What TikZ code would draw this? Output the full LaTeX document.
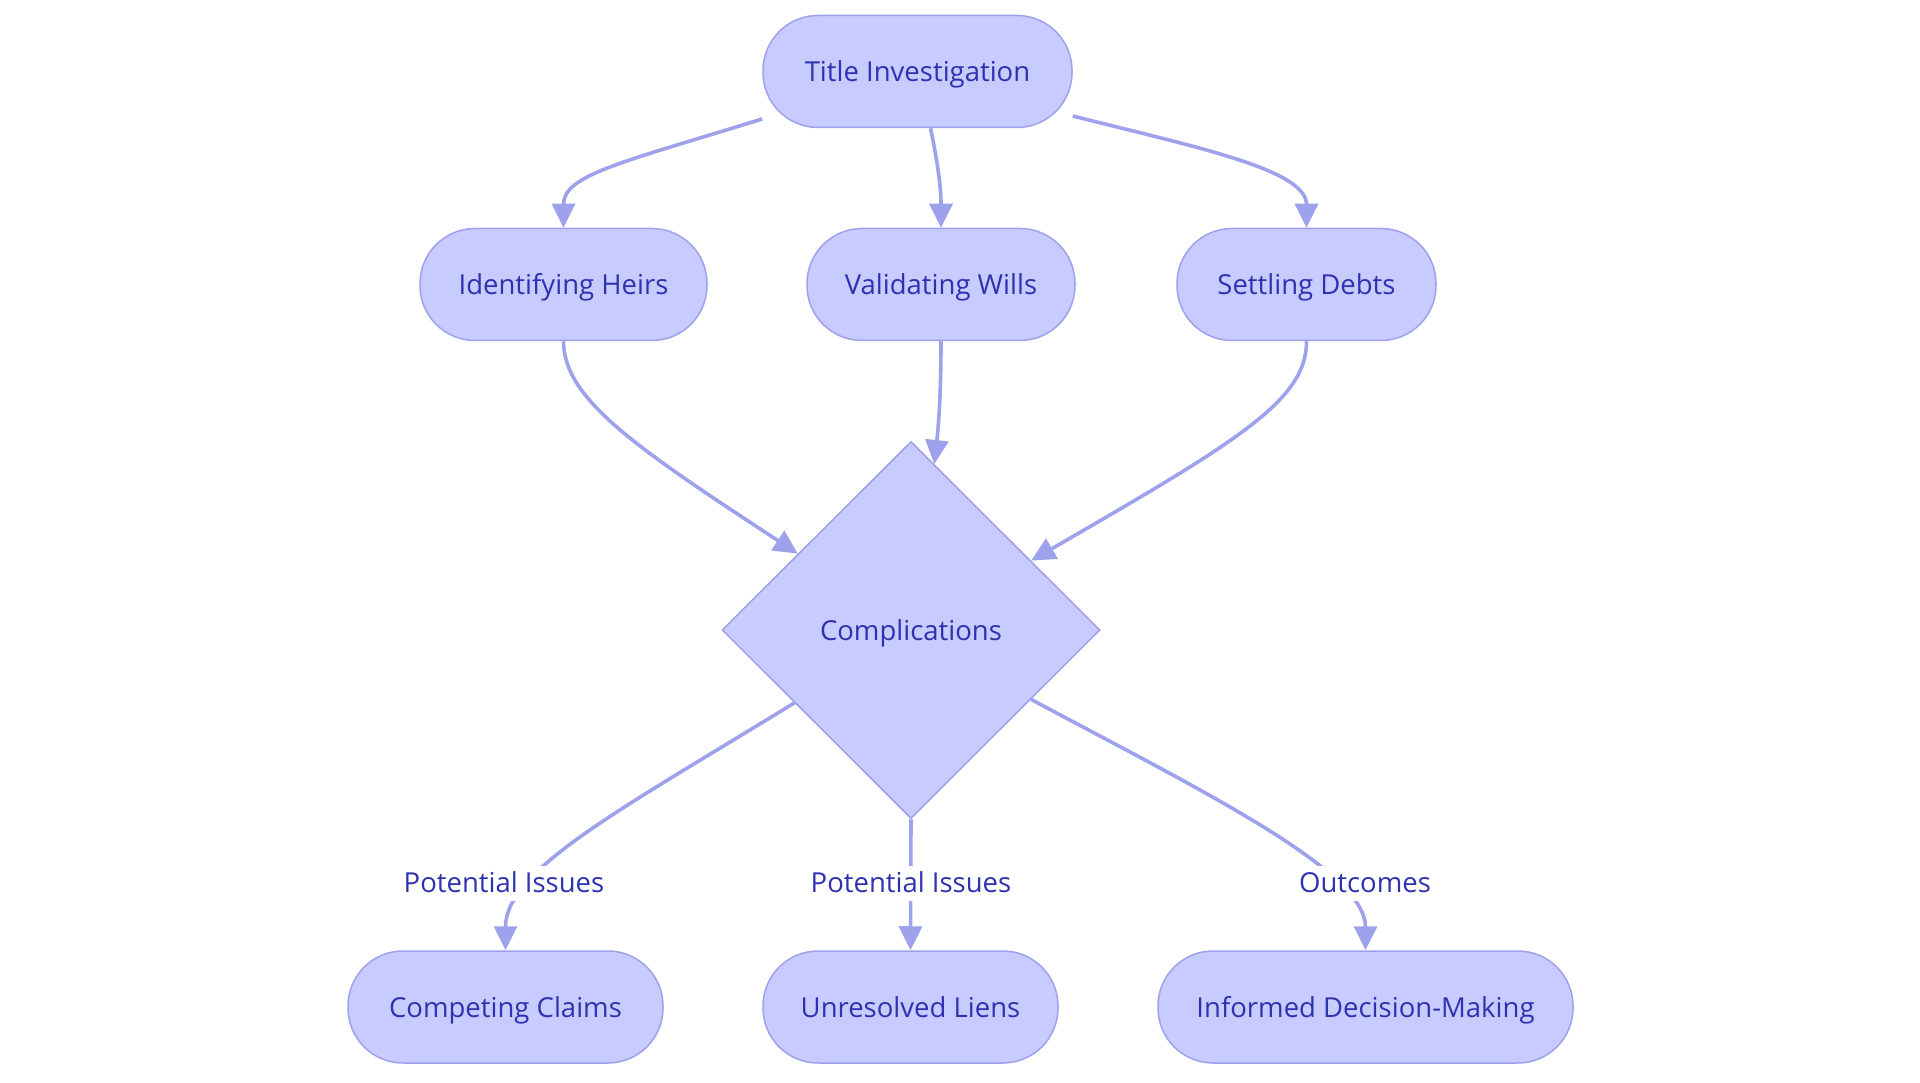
\documentclass[tikz,border=0pt]{standalone}
\usepackage{fontspec}
\setmainfont{Open Sans}
\usetikzlibrary{shapes.geometric,arrows.meta}
\definecolor{nfill}{HTML}{C7CBFF}
\definecolor{nline}{HTML}{9EA2EA}
\definecolor{ntext}{HTML}{2E32B0}
\definecolor{eline}{HTML}{9EA2EC}
\tikzset{
  pill/.style={draw=nline,line width=1.5pt,fill=nfill,rounded corners=55pt,
    minimum height=112pt,inner sep=0pt,text=ntext,font=\fontsize{27.5}{32}\selectfont,
    text height=26pt,text depth=6pt},
  decision/.style={diamond,draw=nline,line width=1.5pt,fill=nfill,
    minimum width=378pt,minimum height=377pt,inner sep=0pt,text=ntext,
    font=\fontsize{27.5}{32}\selectfont,text height=26pt,text depth=6pt},
  elabel/.style={fill=white,text=ntext,inner sep=2pt,font=\fontsize{27.5}{32}\selectfont,
    text height=25pt,text depth=6pt},
  conn/.style={draw=eline,line width=3.6pt,-{Triangle[length=24pt,width=23pt]}},
}
\begin{document}
\begin{tikzpicture}[x=1pt,y=-1pt]
\useasboundingbox (0,0) rectangle (1920,1083);
\node[pill,minimum width=309pt] (T) at (917.5,71.5) {Title Investigation};
\node[pill,minimum width=287pt] (IH) at (563.5,284.5) {Identifying Heirs};
\node[pill,minimum width=268pt] (VW) at (941,284.5) {Validating Wills};
\node[pill,minimum width=259pt] (SD) at (1306.5,284.5) {Settling Debts};
\node[decision] (D) at (911,630) {Complications};
\node[pill,minimum width=315pt] (CC) at (505.5,1007) {Competing Claims};
\node[pill,minimum width=295pt] (UL) at (910.5,1007) {Unresolved Liens};
\node[pill,minimum width=415pt] (IDM) at (1365.5,1007) {Informed Decision-Making};

\draw[conn] (T.197) .. controls (620,163) and (563.5,175) .. (IH.north);
\draw[conn] (T.283.4) .. controls (937,160) and (941,185) .. (VW.north);
\draw[conn] (T.344.6) .. controls (1200,148) and (1306.5,170) .. (SD.north);

\draw[conn] (IH.south) .. controls (563.5,400) and (640,450) .. (D.146);
\draw[conn] (VW.south) .. controls (941,400) and (938,430) .. (D.82);
\draw[conn] (SD.south) .. controls (1306.5,400) and (1240,440) .. (D.30);

\draw[conn] (D.212.8) .. controls (620,810) and (505.5,870) .. (CC.north);
\draw[conn] (D.south) -- (UL.north);
\draw[conn] (D.330.7) .. controls (1200,790) and (1365.5,870) .. (IDM.north);

\node[elabel] (L1) at (504,883) {Potential Issues};
\node[elabel] (L2) at (911,883) {Potential Issues};
\node[elabel] (L3) at (1365,883) {Outcomes};
\end{tikzpicture}
\end{document}
